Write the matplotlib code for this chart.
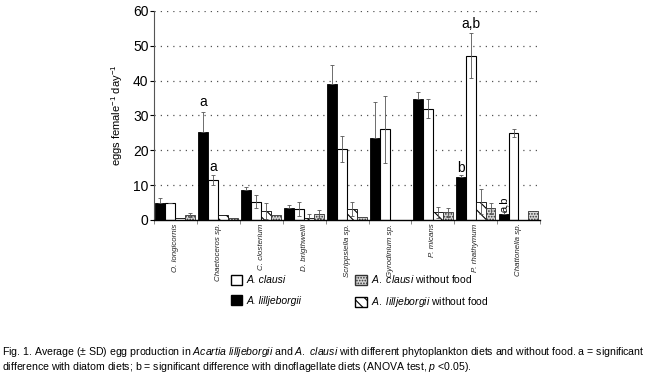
import numpy as np
import matplotlib
matplotlib.use("Agg")
import matplotlib.pyplot as plt
from matplotlib.patches import Patch

plt.rcParams['font.family'] = ['Liberation Sans', 'DejaVu Sans']
plt.rcParams['hatch.linewidth'] = 0.8
plt.rcParams['mathtext.fontset'] = 'custom'
plt.rcParams['mathtext.rm'] = 'Liberation Sans'
plt.rcParams['mathtext.it'] = 'Liberation Sans:italic'

diets = ["O. longicornis", "Chaetoceros sp.", "C. closterium", "D. brigthwellii",
         "Scrippsiella sp.", "Gyrodinium sp.", "P. micans", "P. rhathymum",
         "Chattonella sp."]

lil = [5.0, 25.3, 8.7, 3.5, 39.0, 23.5, 34.7, 12.2, 1.7]
lil_sd = [1.3, 5.7, 0.8, 0.8, 5.5, 10.5, 2.0, 0.6, 0.6]
cla = [5.0, 11.5, 5.3, 3.2, 20.4, 26.0, 32.0, 47.2, 25.0]
cla_sd = [0.0, 1.5, 2.0, 2.0, 3.8, 9.5, 2.7, 6.5, 1.2]
lil_nf = [0.7, 1.3, 2.7, 0.7, 3.2, 0, 2.2, 5.3, 0]
lil_nf_sd = [0, 0, 2.3, 1.0, 2.0, 0, 1.5, 3.5, 0]
cla_nf = [1.5, 0.6, 1.3, 1.8, 1.0, 0, 2.2, 3.3, 2.6]
cla_nf_sd = [0.5, 0, 0, 1.2, 0, 0, 1.2, 1.7, 0]

fig = plt.figure(figsize=(6.54, 3.78), dpi=100)
ax = fig.add_axes([0.2355, 0.418, 0.5905, 0.553])

x = np.arange(len(diets))
w = 0.232
start = 0.03
ekw = dict(ecolor="#555555", elinewidth=0.6, capsize=1.5, capthick=0.6)

ax.bar(x + start, lil, w, align="edge", color="black", edgecolor="black", lw=0.6)
ax.errorbar(x + start + w / 2, lil, yerr=[np.zeros(9), lil_sd], fmt="none", **ekw)
ax.bar(x + start + w, cla, w, align="edge", color="white", edgecolor="black", lw=0.8)
ax.errorbar(x + start + 1.5 * w, cla, yerr=cla_sd, fmt="none", **ekw)
ax.bar(x + start + 2 * w, lil_nf, w, align="edge", color="white", edgecolor="black",
       lw=0.6, hatch="\\\\\\")
m = np.array(lil_nf_sd) > 0
ax.errorbar((x + start + 2.5 * w)[m], np.array(lil_nf)[m], yerr=np.array(lil_nf_sd)[m],
            fmt="none", **ekw)
ax.bar(x + start + 3 * w, cla_nf, w, align="edge", color="#d8d8d8", edgecolor="#333333",
       lw=0.6, hatch="......")
m = np.array(cla_nf_sd) > 0
ax.errorbar((x + start + 3.5 * w)[m], np.array(cla_nf)[m], yerr=np.array(cla_nf_sd)[m],
            fmt="none", **ekw)

# significance letters
ax.text(1 + start + w / 2, 32, "a", ha="center", va="bottom", fontsize=10)
ax.text(1 + start + 1.5 * w, 13.3, "a", ha="center", va="bottom", fontsize=10)
ax.text(7 + start + w / 2, 12.9, "b", ha="center", va="bottom", fontsize=10)
ax.text(7 + start + 1.5 * w, 54.2, "a,b", ha="center", va="bottom", fontsize=10)
ax.text(8 + start + w / 2, 2.4, "a,b", ha="center", va="bottom", fontsize=8, rotation=90)

ax.set_xlim(0, 9)
ax.set_ylim(0, 60)
ax.set_yticks(range(0, 61, 10))
ax.tick_params(axis="y", labelsize=10, length=3, width=0.8, pad=1)
ax.set_xticks(range(0, 10))
ax.set_xticklabels([])
ax.tick_params(axis="x", length=3, width=0.6, color="#777777")
for yv in range(10, 61, 10):
    ax.axhline(yv, color="#555555", lw=0.9, ls=(0, (1, 4)), zorder=0)
for s in ["top", "right"]:
    ax.spines[s].set_visible(False)
ax.spines["left"].set_color("#555555")
ax.spines["bottom"].set_linewidth(1.0)
for i, d in enumerate(diets):
    ax.text(i + 0.5, -1.0, d, rotation=90, ha="center", va="top", fontsize=5.7,
            style="italic", color="#222222")
ax.set_ylabel("eggs female$^{-1}$ day$^{-1}$", fontsize=8, labelpad=6)

handles = [Patch(facecolor="white", edgecolor="black", label="A. clausi"),
           Patch(facecolor="black", edgecolor="black", label="A. lilljeborgii"),
           Patch(facecolor="#d8d8d8", edgecolor="#333333", hatch="......",
                 label=r"$\it{A.}$ $\it{clausi}$ without food"),
           Patch(facecolor="white", edgecolor="black", hatch="\\\\\\",
                 label=r"$\it{A.}$ $\it{lilljeborgii}$ without food")]
leg = fig.legend(handles=handles, ncol=2, loc="upper center",
                 bbox_to_anchor=(0.55, 1 - 264 / 378), frameon=False, fontsize=7.5,
                 handlelength=1.1, handleheight=1.1, handletextpad=0.4,
                 columnspacing=5.2, labelspacing=0.95)
for t in leg.get_texts()[:2]:
    t.set_style("italic")

cap1 = (r"Fig. 1. Average (± SD) egg production in $\it{Acartia}$ $\it{lilljeborgii}$ and "
        r"$\it{A.}$ $\it{clausi}$ with different phytoplankton diets and without food. "
        r"a = significant")
cap2 = (r"difference with diatom diets; b = significant difference with dinoflagellate "
        r"diets (ANOVA test, $\it{p}$ <0.05).")
fig.text(0.003, 1 - 352 / 378, cap1, fontsize=7.55, va="center")
fig.text(0.003, 1 - 367 / 378, cap2, fontsize=7.55, va="center")

fig.savefig("out.png", dpi=100)
